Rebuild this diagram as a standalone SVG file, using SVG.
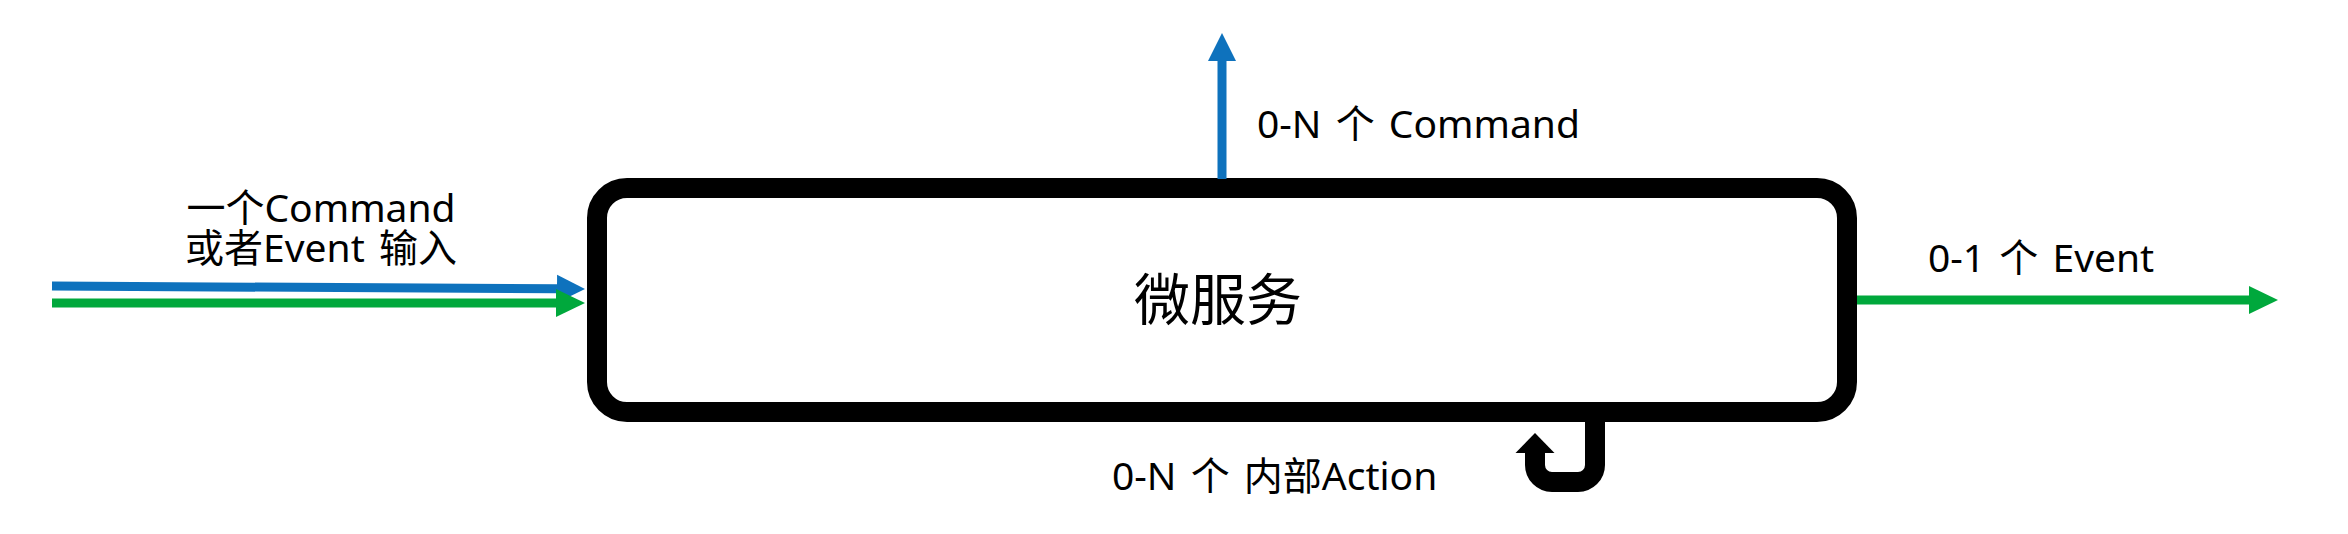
<svg xmlns="http://www.w3.org/2000/svg" width="2348" height="534" viewBox="0 0 2348 534">
<style>
.lbl{font-family:"Noto Sans","Noto Sans CJK SC",sans-serif;font-size:39px;word-spacing:4px;fill:#000}
.title{font-family:"Noto Sans CJK SC","Noto Sans",sans-serif;font-size:56px;fill:#000}
.blue{stroke:#0E72BD;stroke-width:9;fill:none}
.green{stroke:#00A83C;stroke-width:9;fill:none}
.black{stroke:#000;stroke-width:20;fill:none}
</style>
<defs>
<marker id="ab" markerUnits="userSpaceOnUse" markerWidth="30" markerHeight="30" viewBox="0 -15 30 30" refX="0" refY="0" orient="auto" overflow="visible">
<path d="M0,-14 L28,0 L0,14 z" fill="#0E72BD"/>
</marker>
<marker id="ag" markerUnits="userSpaceOnUse" markerWidth="30" markerHeight="30" viewBox="0 -15 30 30" refX="0" refY="0" orient="auto" overflow="visible">
<path d="M0,-14 L29,0 L0,14 z" fill="#00A83C"/>
</marker>
<marker id="ak" markerUnits="userSpaceOnUse" markerWidth="24" markerHeight="42" viewBox="0 -21 24 42" refX="0" refY="0" orient="auto" overflow="visible">
<path d="M0,-19.5 L20,0 L0,19.5 z" fill="#000"/>
</marker>
</defs>
<rect width="2348" height="534" fill="#fff"/>
<g id="node-microservice">
<rect x="597" y="188" width="1250" height="224" rx="30" ry="30" fill="#fff" stroke="#000" stroke-width="20"/>
<text class="title" x="1218" y="320" text-anchor="middle">微服务</text>
</g>
<g id="connectors">
<line class="blue" x1="52" y1="286" x2="557" y2="288.8" marker-end="url(#ab)"/>
<line class="green" x1="52" y1="303" x2="556" y2="303" marker-end="url(#ag)"/>
<line class="blue" x1="1222" y1="179" x2="1222" y2="61" marker-end="url(#ab)"/>
<line class="green" x1="1857" y1="300" x2="2249" y2="300" marker-end="url(#ag)"/>
<path class="black" d="M1595,412 V465 A17,17 0 0 1 1578,482 H1552 A17,17 0 0 1 1535,465 V453" marker-end="url(#ak)"/>
</g>
<g id="labels">
<text class="lbl" text-anchor="middle"><tspan x="321" y="222">一个Command</tspan><tspan x="321" y="262">或者Event 输入</tspan></text>
<text class="lbl" x="1257" y="138">0-N 个 Command</text>
<text class="lbl" x="1928" y="272">0-1 个 Event</text>
<text class="lbl" x="1112" y="490">0-N 个 内部Action</text>
</g>
</svg>
